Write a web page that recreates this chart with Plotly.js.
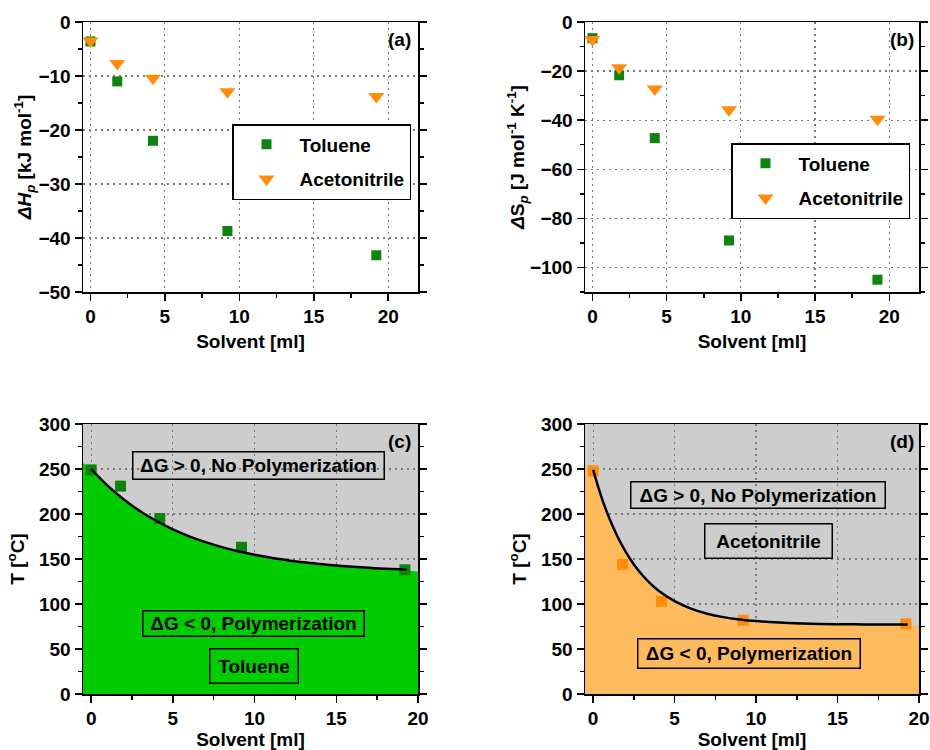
<!DOCTYPE html>
<html>
<head>
<meta charset="utf-8">
<script src="https://cdn.plot.ly/plotly-3.0.1.min.js"></script>
<style>html,body{margin:0;padding:0;background:#fff;}#chart{width:930px;height:750px;}</style>
</head>
<body>
<div id="chart"></div>
<script>
// ---------- data ----------
const solvent = [0, 1.8, 4.2, 9.2, 19.2];

// (a) enthalpy of polymerization [kJ/mol]
const dH_toluene = [-3.6, -11.0, -22.0, -38.7, -43.2];
const dH_acetonitrile = [-3.5, -7.7, -10.4, -12.9, -13.8];

// (b) entropy of polymerization [J/(mol K)]
const dS_toluene = [-6.6, -21.7, -47.3, -89.0, -105.0];
const dS_acetonitrile = [-7.1, -18.6, -27.3, -35.8, -39.6];

// (c) ceiling temperature, toluene
const Tc_toluene = [249, 231, 195, 163, 138];
const curveX_toluene = [0, 1, 2, 3, 4, 5, 6, 7, 8, 9, 10, 11, 12, 13, 14, 15, 16, 17, 18, 19.3];
const curveT_toluene = [250, 231.6, 216.2, 203.1, 192.2, 183.0, 175.2, 168.7, 163.2, 158.6, 154.7, 151.4, 148.7, 146.3, 144.4, 142.7, 141.4, 140.2, 139.2, 138.2];
const regionX_toluene = [-0.5, 0, 1, 2, 3, 4, 5, 6, 7, 8, 9, 10, 11, 12, 13, 14, 15, 16, 17, 18, 19.3, 20];
const regionT_toluene = [257, 250, 231.6, 216.2, 203.1, 192.2, 183.0, 175.2, 168.7, 163.2, 158.6, 154.7, 151.4, 148.7, 146.3, 144.4, 142.7, 141.4, 140.2, 139.2, 137.5, 136];

// (d) ceiling temperature, acetonitrile
const Tc_acetonitrile = [248, 144, 103, 82, 78];
const curveX_acetonitrile = [0, 0.5, 1, 1.5, 2, 2.5, 3, 3.5, 4, 5, 6, 7, 8, 9, 10, 12, 14, 16, 18, 19.3];
const curveT_acetonitrile = [249, 219.4, 194.9, 174.7, 157.9, 144.0, 132.5, 122.9, 115.0, 103.1, 94.9, 89.2, 85.4, 82.8, 81.0, 78.9, 77.9, 77.4, 77.2, 77.1];
const regionX_acetonitrile = [-0.5, 0, 0.5, 1, 1.5, 2, 2.5, 3, 3.5, 4, 5, 6, 7, 8, 9, 10, 12, 14, 16, 18, 20];
const regionT_acetonitrile = [251, 249, 218, 193.5, 173.5, 156.5, 142.5, 131, 121.5, 113.5, 101.5, 93.5, 88, 84, 81.5, 79.5, 77.5, 76.5, 76, 75.8, 75.5];

const seriesNames = ['Toluene', 'Acetonitrile'];
const panelLabels = ['(a)', '(b)', '(c)', '(d)'];
const xTitle = 'Solvent [ml]';
const yTitles = [
  '<i>ΔH</i><sub><i>p</i></sub> [kJ mol<sup>-1</sup>]',
  '<i>Δ</i>S<sub><i>p</i></sub> [J mol<sup>-1</sup> K<sup>-1</sup>]',
  'T [<sup>o</sup>C]',
  'T [<sup>o</sup>C]'
];
const regionTexts = ['ΔG > 0, No Polymerization', 'ΔG < 0, Polymerization'];

// ---------- styles ----------
const FONT = 'Liberation Sans, Arial, sans-serif';
const GREEN = '#0e840e';
const ORANGE = '#ff8c0a';
const GREEN_FILL = '#00cc00';
const ORANGE_FILL = '#fdbb5e';
const BG_GREY = '#cdcdcd';

const W = 930, H = 750;
const px = v => v / W;
const py = v => 1 - v / H;

const traces = [
  // (a)
  {x: solvent, y: dH_toluene, name: seriesNames[0], type: 'scatter', mode: 'markers', xaxis: 'x', yaxis: 'y',
   marker: {symbol: 'square', size: 10, color: GREEN}, legend: 'legend', legendgroup: 'a1'},
  {x: solvent, y: dH_acetonitrile, name: seriesNames[1], type: 'scatter', mode: 'markers', xaxis: 'x', yaxis: 'y',
   marker: {symbol: 'triangle-down', size: 14, color: ORANGE}, legend: 'legend', legendgroup: 'a2'},
  // (b)
  {x: solvent, y: dS_toluene, name: seriesNames[0], type: 'scatter', mode: 'markers', xaxis: 'x2', yaxis: 'y2',
   marker: {symbol: 'square', size: 10, color: GREEN}, legend: 'legend2', legendgroup: 'b1'},
  {x: solvent, y: dS_acetonitrile, name: seriesNames[1], type: 'scatter', mode: 'markers', xaxis: 'x2', yaxis: 'y2',
   marker: {symbol: 'triangle-down', size: 14, color: ORANGE}, legend: 'legend2', legendgroup: 'b2'},
  // (c)
  {x: regionX_toluene, y: regionT_toluene, type: 'scatter', mode: 'lines', fill: 'tozeroy', fillcolor: GREEN_FILL,
   line: {width: 0, color: GREEN_FILL}, xaxis: 'x3', yaxis: 'y3', showlegend: false, hoverinfo: 'skip'},
  {x: solvent, y: Tc_toluene, type: 'scatter', mode: 'markers', xaxis: 'x3', yaxis: 'y3', showlegend: false,
   marker: {symbol: 'square', size: 11, color: GREEN}},
  {x: curveX_toluene, y: curveT_toluene, type: 'scatter', mode: 'lines', xaxis: 'x3', yaxis: 'y3', showlegend: false,
   line: {color: '#000', width: 2.5, shape: 'spline'}},
  // (d)
  {x: regionX_acetonitrile, y: regionT_acetonitrile, type: 'scatter', mode: 'lines', fill: 'tozeroy', fillcolor: ORANGE_FILL,
   line: {width: 0, color: ORANGE_FILL}, xaxis: 'x4', yaxis: 'y4', showlegend: false, hoverinfo: 'skip'},
  {x: solvent, y: Tc_acetonitrile, type: 'scatter', mode: 'markers', xaxis: 'x4', yaxis: 'y4', showlegend: false,
   marker: {symbol: 'square', size: 11, color: ORANGE}},
  {x: curveX_acetonitrile, y: curveT_acetonitrile, type: 'scatter', mode: 'lines', xaxis: 'x4', yaxis: 'y4', showlegend: false,
   line: {color: '#000', width: 2.5, shape: 'spline'}}
];

const tickFont = {family: FONT, size: 19, color: '#000', weight: 'bold'};
const titleFont = {family: FONT, size: 19, color: '#000', weight: 'bold'};

function xAxis(domain, anchor, range, standoff) {
  return {
    domain: domain, anchor: anchor, range: range, dtick: 5, tick0: 0,
    showline: true, linecolor: '#000', linewidth: 1.5, mirror: true,
    ticks: 'outside', ticklen: 7, tickwidth: 1.5, tickcolor: '#000',
    minor: {ticks: 'outside', ticklen: 4, tickwidth: 1.5, tickcolor: '#000', dtick: 2.5, tick0: 0, showgrid: false},
    showgrid: true, gridcolor: '#7a7a7a', gridwidth: 1.2, griddash: '2px,4px',
    zeroline: false, tickfont: tickFont, ticklabeloverflow: 'allow', automargin: false, fixedrange: true,
    title: {text: xTitle, font: titleFont, standoff: standoff}
  };
}
function topAxis(overlay, anchor, range) {
  return {
    overlaying: overlay, anchor: anchor, side: 'top', range: range, dtick: 5, tick0: 0,
    showline: false, ticks: 'inside', ticklen: 7, tickwidth: 1.5, tickcolor: '#000',
    minor: {ticks: 'inside', ticklen: 4, tickwidth: 1.5, tickcolor: '#000', dtick: 2.5, tick0: 0, showgrid: false},
    showgrid: false, zeroline: false, showticklabels: false, automargin: false, fixedrange: true
  };
}
function yAxis(domain, anchor, range, dtick, minorDtick, title, standoff) {
  return {
    domain: domain, anchor: anchor, range: range, dtick: dtick, tick0: 0,
    showline: true, linecolor: '#000', linewidth: 1.5, mirror: 'ticks',
    ticks: 'outside', ticklen: 7, tickwidth: 1.5, tickcolor: '#000',
    minor: {ticks: 'outside', ticklen: 4, tickwidth: 1.5, tickcolor: '#000', dtick: minorDtick, tick0: 0, showgrid: false},
    showgrid: true, gridcolor: '#7a7a7a', gridwidth: 1.2, griddash: '2px,4px',
    zeroline: false, tickfont: tickFont, automargin: false, fixedrange: true,
    title: {text: title, font: titleFont, standoff: standoff}
  };
}

const xDomL = [px(83), px(418)], xDomR = [px(585), px(919)];
const yDomT = [py(292), py(22)], yDomB = [py(694), py(424)];

function boxNote(text, cx, cy, w, h) {
  return {text: text, xref: 'paper', yref: 'paper', x: px(cx), y: py(cy), xanchor: 'center', yanchor: 'middle',
    showarrow: false, width: w - 2, height: h - 2, borderpad: 1, bordercolor: '#000', borderwidth: 1.5,
    font: {family: FONT, size: 19, color: '#000', weight: 'bold'}};
}
function panelNote(text, rx, cy) {
  return {text: text, xref: 'paper', yref: 'paper', x: px(rx), y: py(cy), xanchor: 'right', yanchor: 'middle',
    showarrow: false, font: {family: FONT, size: 19, color: '#000', weight: 'bold'}};
}

const legendStyle = (lx, ly) => ({
  x: px(lx), y: py(ly), xanchor: 'left', yanchor: 'top', xref: 'paper', yref: 'paper',
  bgcolor: '#fff', bordercolor: '#000', borderwidth: 1.5,
  font: {family: FONT, size: 19, color: '#000', weight: 'bold'},
  itemwidth: 56, tracegroupgap: 7, traceorder: 'grouped', valign: 'middle'
});

const layout = {
  width: W, height: H, margin: {l: 0, r: 0, t: 0, b: 0},
  paper_bgcolor: '#fff', plot_bgcolor: 'rgba(0,0,0,0)',
  showlegend: true,
  xaxis: xAxis(xDomL, 'y', [-0.5, 22], 8),
  yaxis: yAxis(yDomT, 'x', [-50, 0], 10, 5, yTitles[0], 2),
  xaxis2: xAxis(xDomR, 'y2', [-0.5, 22], 8),
  yaxis2: yAxis(yDomT, 'x2', [-110, 0], 20, 10, yTitles[1], 0),
  xaxis3: xAxis(xDomL, 'y3', [-0.5, 20], 8),
  yaxis3: yAxis(yDomB, 'x3', [0, 300], 50, 25, yTitles[2], 9),
  xaxis4: xAxis(xDomR, 'y4', [-0.5, 20], 8),
  yaxis4: yAxis(yDomB, 'x4', [0, 300], 50, 25, yTitles[3], 9),
  xaxis5: topAxis('x', 'y', [-0.5, 22]),
  xaxis6: topAxis('x2', 'y2', [-0.5, 22]),
  xaxis7: topAxis('x3', 'y3', [-0.5, 20]),
  xaxis8: topAxis('x4', 'y4', [-0.5, 20]),
  legend: legendStyle(232, 124),
  legend2: legendStyle(731, 143),
  shapes: [
    {type: 'rect', xref: 'x3 domain', yref: 'y3 domain', x0: 0, x1: 1, y0: 0, y1: 1, fillcolor: BG_GREY, line: {width: 0}, layer: 'below'},
    {type: 'rect', xref: 'x4 domain', yref: 'y4 domain', x0: 0, x1: 1, y0: 0, y1: 1, fillcolor: BG_GREY, line: {width: 0}, layer: 'below'}
  ],
  annotations: [
    panelNote(panelLabels[0], 413, 39),
    panelNote(panelLabels[1], 916, 39),
    panelNote(panelLabels[2], 413, 441),
    panelNote(panelLabels[3], 916, 441),
    boxNote(regionTexts[0], 258, 466, 250, 26),
    boxNote(regionTexts[1], 253, 623.5, 220, 24),
    boxNote(seriesNames[0], 253.5, 665.5, 87, 33),
    boxNote(regionTexts[0], 757.5, 494.5, 253, 25),
    boxNote(seriesNames[1], 768, 540.5, 126, 33),
    boxNote(regionTexts[1], 748.5, 653, 221, 28)
  ]
};

Plotly.newPlot('chart', traces, layout, {displayModeBar: false, staticPlot: true});
</script>
</body>
</html>
